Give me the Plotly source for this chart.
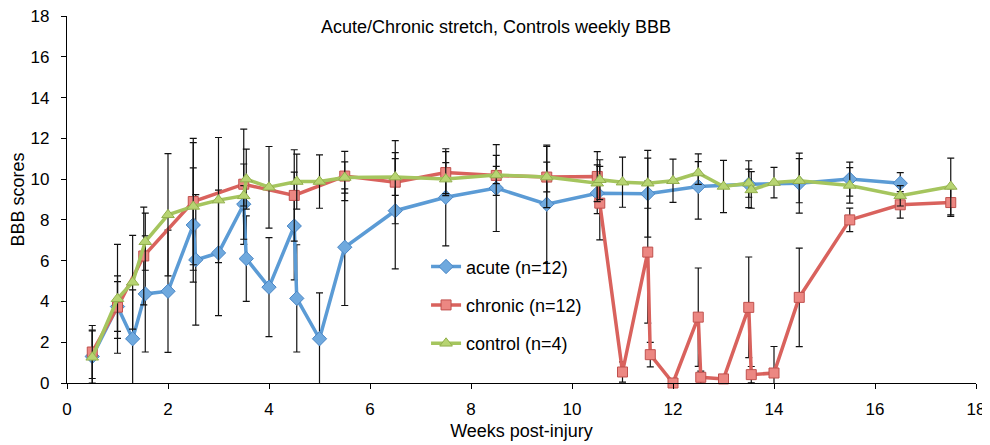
import plotly.graph_objects as go

# ---- data ----
acute_x = [0.5, 1.0, 1.3, 1.55, 2.0, 2.5, 2.55, 3.0, 3.5, 3.55, 4.0, 4.5, 4.55, 5.0, 5.5,
           6.5, 7.5, 8.5, 9.5, 10.5, 11.5, 12.5, 13.5, 14.5, 15.5, 16.5]
acute_y = [1.3, 3.75, 2.17, 4.37, 4.5, 7.75, 6.04, 6.38, 8.77, 6.1, 4.7, 7.7, 4.15, 2.17, 6.66,
           8.45, 9.11, 9.56, 8.77, 9.31, 9.28, 9.64, 9.75, 9.8, 10.0, 9.8]
acute_err = [1.3, 1.22, 2.4, 2.85, 3.0, 2.8, 3.2, 3.08, 1.97, 2.1, 2.43, 2.64, 2.63, 2.25, 2.86,
             2.85, 2.38, 2.13, 2.9, 1.0, 2.13, 1.6, 1.15, 1.47, 0.83, 0.52]

chronic_x = [0.5, 1.0, 1.52, 2.5, 3.5, 4.5, 5.5, 6.5, 7.5, 8.5, 9.5, 10.5, 10.55, 11.0, 11.5,
             11.55, 12.0, 12.5, 12.55, 13.0, 13.5, 13.55, 14.0, 14.5, 15.5, 16.5, 17.5]
chronic_y = [1.52, 3.72, 6.23, 8.9, 9.75, 9.2, 10.15, 9.85, 10.32, 10.18, 10.1, 10.13, 8.82, 0.54, 6.42,
             1.39, 0.0, 3.23, 0.28, 0.2, 3.71, 0.41, 0.49, 4.2, 8.0, 8.74, 8.85]
chronic_err = [1.3, 1.53, 2.4, 3.1, 2.7, 2.24, 1.21, 2.04, 1.03, 0.98, 1.5, 1.22, 1.8, 0.5, 3.48,
               0.6, 0.0, 2.41, 0.3, 0.2, 2.47, 0.4, 1.3, 2.42, 0.58, 0.65, 0.68]

control_x = [0.5, 1.0, 1.3, 1.55, 2.0, 2.5, 3.0, 3.5, 3.55, 4.0, 4.55, 5.0, 5.5, 6.5, 7.5, 8.5,
             9.5, 10.5, 10.55, 11.0, 11.5, 12.0, 12.5, 13.0, 13.5, 13.55, 14.0, 14.5, 15.5, 16.5, 17.5]
control_y = [1.26, 4.13, 4.94, 6.93, 8.25, 8.66, 8.97, 9.18, 10.0, 9.6, 9.88, 9.88, 10.08, 10.1, 10.0, 10.2,
             10.1, 9.8, 9.97, 9.85, 9.8, 9.92, 10.3, 9.64, 9.8, 9.47, 9.83, 9.92, 9.69, 9.18, 9.64]
control_err = [1.3, 2.67, 2.3, 1.4, 3.0, 3.13, 3.07, 0.5, 1.47, 2.0, 1.35, 1.31, 0.77, 0.9, 0.81, 0.42,
               0.73, 0.9, 0.98, 1.23, 1.23, 1.06, 0.56, 1.28, 0.69, 0.9, 0.75, 1.08, 0.87, 0.5, 1.39]

x_ticks = list(range(0, 19, 2))
y_ticks = list(range(0, 19, 2))

FONT = "Liberation Sans, Arial, sans-serif"

# page body has an 8px default margin, so the figure is sized/offset to compensate
W, H = 982, 437

series = [
    ("acute (n=12)", acute_x, acute_y, acute_err, "#5b9bd5", "#6fa9de", "#4a86c5", "diamond", 11),
    ("chronic (n=12)", chronic_x, chronic_y, chronic_err, "#d9625d", "#ec8782", "#c0504d", "square", 10),
    ("control (n=4)", control_x, control_y, control_err, "#a5c55e", "#b7d472", "#93b04e", "triangle-up", 11),
]

fig = go.Figure()
for name, xs, ys, es, lc, fc, bc, sym, sz in series:
    fig.add_trace(go.Scatter(
        x=xs, y=ys, name=name, mode="lines+markers", legendgroup=name,
        line=dict(color=lc, width=3.5),
        marker=dict(symbol=sym, size=sz, color=fc, line=dict(color=bc, width=1)),
        error_y=dict(type="data", array=es, visible=True, color="#111111", thickness=1.2, width=3.5),
        cliponaxis=False,
    ))

axis_common = dict(
    showline=True, linecolor="black", linewidth=1.3, mirror=False,
    ticks="outside", ticklen=5, tickcolor="black", tickwidth=1.2,
    showgrid=False, zeroline=False, automargin=False, ticklabeloverflow="allow",
    tickfont=dict(family=FONT, size=17, color="black"),
)

fig.update_layout(
    width=W, height=H,
    margin=dict(l=58.7, r=14.3, t=8, b=61.7),
    paper_bgcolor="white", plot_bgcolor="white",
    font=dict(family=FONT, color="black"),
    title=dict(text="Acute/Chronic stretch, Controls weekly BBB", x=488 / W, xanchor="center",
               y=1 - 19 / H, yanchor="middle", font=dict(family=FONT, size=18, color="black")),
    xaxis=dict(range=[0, 18], tickvals=x_ticks, ticklabelstandoff=5,
               title=dict(text="Weeks post-injury", font=dict(family=FONT, size=18), standoff=6),
               **axis_common),
    yaxis=dict(range=[0, 18], tickvals=y_ticks, ticklabelstandoff=8,
               title=dict(text="BBB scores", font=dict(family=FONT, size=18), standoff=1),
               **axis_common),
    showlegend=True,
    legend=dict(x=0.395, y=0.367, xanchor="left", yanchor="top", bgcolor="rgba(0,0,0,0)",
                font=dict(family=FONT, size=18, color="black"), tracegroupgap=12,
                traceorder="grouped", itemwidth=30),
)

fig.write_html("out.html")
